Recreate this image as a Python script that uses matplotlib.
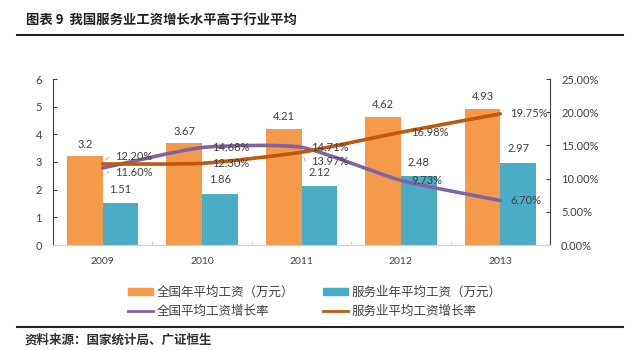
import numpy as np
import matplotlib
matplotlib.use("Agg")
from matplotlib import pyplot as plt
from matplotlib.path import Path
from matplotlib.patches import PathPatch, Patch
from matplotlib.lines import Line2D
from matplotlib.ticker import FuncFormatter

plt.rcParams['font.family'] = ['Lato', 'Noto Sans CJK SC', 'DejaVu Sans']

years = ["2009", "2010", "2011", "2012", "2013"]
wage_all = [3.2, 3.67, 4.21, 4.62, 4.93]
wage_service = [1.51, 1.86, 2.12, 2.48, 2.97]
growth_all = [11.60, 14.68, 14.71, 9.73, 6.70]
growth_service = [12.20, 12.30, 13.97, 16.98, 19.75]

title = "图表 9  我国服务业工资增长水平高于行业平均"
source = "资料来源：国家统计局、广证恒生"
legend_labels = ["全国年平均工资（万元）", "服务业年平均工资（万元）",
                 "全国平均工资增长率", "服务业平均工资增长率"]

c_orange = "#F59A4B"
c_blue = "#4BACC6"
c_purple = "#8064A2"
c_brown = "#C0580E"
c_text = "#404040"


def smooth_path(xs, ys, k=10.0):
    # smoothed line as cubic bezier segments through the data points
    xs = np.asarray(xs, float)
    ys = np.asarray(ys, float)
    n = len(xs)
    verts = [(xs[0], ys[0])]
    codes = [Path.MOVETO]
    for i in range(n - 1):
        p0 = (xs[max(i - 1, 0)], ys[max(i - 1, 0)])
        p1 = (xs[i], ys[i])
        p2 = (xs[i + 1], ys[i + 1])
        p3 = (xs[min(i + 2, n - 1)], ys[min(i + 2, n - 1)])
        c1 = (p1[0] + (p2[0] - p0[0]) / k, p1[1] + (p2[1] - p0[1]) / k)
        c2 = (p2[0] - (p3[0] - p1[0]) / k, p2[1] - (p3[1] - p1[1]) / k)
        verts += [c1, c2, p2]
        codes += [Path.CURVE4] * 3
    return Path(verts, codes)


fig = plt.figure(figsize=(6.4, 3.5), dpi=100)
ax = fig.add_axes([53 / 640, 105 / 350, 497 / 640, 166 / 350])
ax2 = ax.twinx()

x = np.arange(len(years))
w = 0.36
b1 = ax.bar(x - w / 2, wage_all, w, color=c_orange, zorder=2)
b2 = ax.bar(x + w / 2, wage_service, w, color=c_blue, zorder=2)
ax.bar_label(b1, labels=[str(v) for v in wage_all], padding=5, fontsize=8, color=c_text)
ax.bar_label(b2, labels=[str(v) for v in wage_service], padding=6, fontsize=8, color=c_text)

ax.set_xlim(-0.5, len(years) - 0.5)
ax.set_ylim(0, 6)
ax.set_yticks(range(7))
ax.set_xticks(x)
ax.set_xticklabels(years, fontsize=7.5, color=c_text)
ax.set_xticks(np.arange(-0.5, len(years)), minor=True)
ax.tick_params(axis='x', which='major', length=0, pad=9)
ax.tick_params(axis='x', which='minor', length=3, color="#D0D0D0", direction='in')
ax.tick_params(axis='y', labelsize=8, labelcolor=c_text, length=3, color="#404040", direction='in', pad=8)

ax2.set_ylim(0, 25)
ax2.set_yticks(np.arange(0, 26, 5))
ax2.yaxis.set_major_formatter(FuncFormatter(lambda v, p: "%.2f%%" % v))
ax2.tick_params(axis='y', labelsize=8, labelcolor=c_text, length=3, color="#404040", direction='in', pad=8)

for a in (ax, ax2):
    a.spines['top'].set_visible(False)
    a.spines['bottom'].set_color("#D0D0D0")
    a.spines['left'].set_color("#404040")
    a.spines['right'].set_color("#404040")
ax2.spines['left'].set_visible(False)
ax.spines['right'].set_visible(False)

ax2.add_patch(PathPatch(smooth_path(x, growth_all), fill=False, edgecolor=c_purple,
                        lw=2.6, zorder=3, capstyle='round'))
ax2.add_patch(PathPatch(smooth_path(x, growth_service), fill=False, edgecolor=c_brown,
                        lw=2.6, zorder=3, capstyle='round'))

# growth labels: offsets in pixels from each point
off_all = [(12, -5), (10, 0), (10, 0), (10, 0), (10, 0)]
off_service = [(12, 7), (10, 0), (10, -9), (10, 0), (10, 0)]
lead = {0, 2}
for i in range(len(years)):
    for vals, offs in ((growth_all, off_all), (growth_service, off_service)):
        dx, dy = offs[i]
        ax2.annotate("%.2f%%" % vals[i], (x[i], vals[i]), xytext=(dx, dy),
                     textcoords='offset pixels', fontsize=8, color=c_text,
                     ha='left', va='center', zorder=4)
        if i in lead and dy != 0:
            ax2.annotate("", (x[i], vals[i]), xytext=(dx - 6, dy),
                         textcoords='offset pixels',
                         arrowprops=dict(arrowstyle='-', color="#A0A0A0", lw=0.6,
                                         shrinkA=0, shrinkB=4))

handles = [Patch(color=c_orange), Line2D([], [], color=c_purple, lw=2),
           Patch(color=c_blue), Line2D([], [], color=c_brown, lw=2)]
labels = [legend_labels[0], legend_labels[2], legend_labels[1], legend_labels[3]]
fig.legend(handles, labels, ncol=2, loc='center', bbox_to_anchor=(315 / 640, 1 - 302 / 350),
           frameon=False, prop={'family': ['Noto Sans CJK SC'], 'size': 9},
           handlelength=2.0, handleheight=0.5, handletextpad=0.3, columnspacing=2.3,
           labelspacing=0.45, labelcolor=c_text)

fig.text(26 / 640, 1 - 20 / 350, title, fontsize=9.6, fontweight='bold',
         family=['Noto Sans CJK SC'], va='center', ha='left', color="#202020")
fig.text(25 / 640, 1 - 340 / 350, source, fontsize=9, fontweight='bold',
         family=['Noto Sans CJK SC'], va='center', ha='left', color="#303030")
fig.add_artist(Line2D([17 / 640, 623 / 640], [1 - 35 / 350, 1 - 35 / 350], color="#202020", lw=1.5))
fig.add_artist(Line2D([17 / 640, 623 / 640], [1 - 327 / 350, 1 - 327 / 350], color="#202020", lw=1.5))

fig.savefig("out.png", dpi=100)
